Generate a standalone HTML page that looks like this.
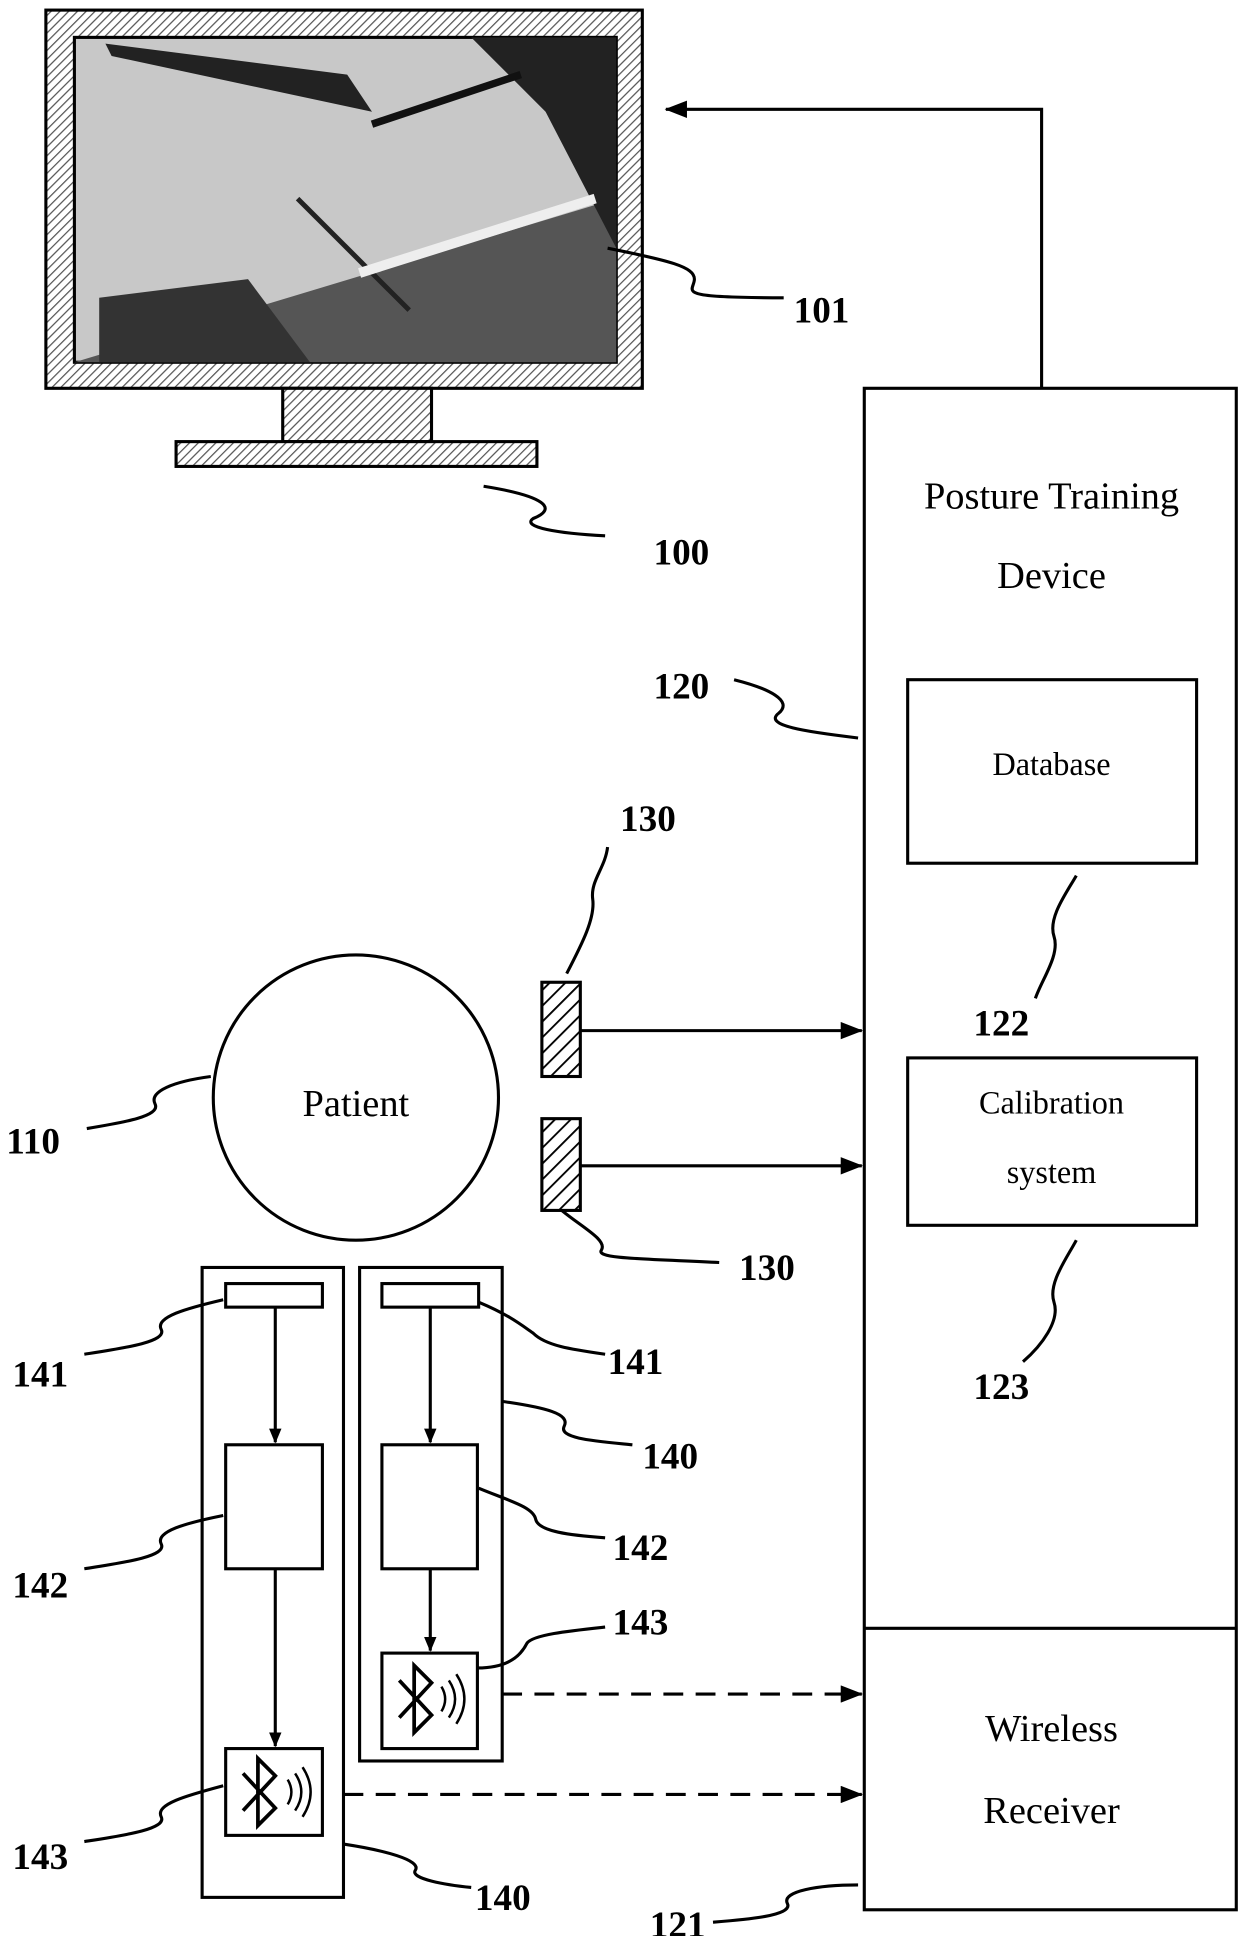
<!DOCTYPE html>
<html><head><meta charset="utf-8"><style>
html,body{margin:0;padding:0;background:#fff;}
svg{display:block;}
text{font-family:"Liberation Serif",serif;fill:#000;}
.lab{font-weight:bold;font-size:30px;}
.t{font-size:31px;}
.s{font-size:26px;}
</style></head><body>
<svg width="1240" height="1936" viewBox="0 0 1000 1561" xmlns="http://www.w3.org/2000/svg">
<defs>
<pattern id="h" width="5" height="5" patternUnits="userSpaceOnUse" patternTransform="rotate(45)">
<rect width="5" height="5" fill="#fff"/><line x1="0" y1="0" x2="0" y2="5" stroke="#555" stroke-width="2"/></pattern>
<pattern id="h2" width="9" height="9" patternUnits="userSpaceOnUse" patternTransform="rotate(45)">
<rect width="9" height="9" fill="#fff"/><line x1="0" y1="0" x2="0" y2="9" stroke="#000" stroke-width="3"/></pattern>
<marker id="a" markerWidth="12" markerHeight="10" refX="11" refY="5" orient="auto" markerUnits="userSpaceOnUse">
<path d="M0,0 L12,5 L0,10 Z" fill="#000"/></marker>
<marker id="a2" markerWidth="18" markerHeight="14" refX="17" refY="7" orient="auto" markerUnits="userSpaceOnUse">
<path d="M0,0 L18,7 L0,14 Z" fill="#000"/></marker>
</defs>
<g stroke="#000" stroke-width="2.5" fill="none">
<rect x="37" y="8" width="481" height="305" fill="url(#h)"/>
<rect x="60" y="30" width="437" height="262" fill="#c8c8c8"/>
<rect x="228" y="313" width="120" height="43" fill="url(#h)"/>
<rect x="142" y="356" width="291" height="20" fill="url(#h)"/>
</g>
<g>
<polygon points="60,292 497,160 497,292" fill="#555"/>
<polygon points="380,30 497,30 497,200 440,90" fill="#222"/>
<polygon points="85,35 280,60 300,90 90,45" fill="#222"/>
<polygon points="80,240 200,225 250,292 80,292" fill="#333"/>
<line x1="240" y1="160" x2="330" y2="250" stroke="#222" stroke-width="4"/>
<line x1="290" y1="220" x2="480" y2="160" stroke="#eee" stroke-width="8"/>
<line x1="300" y1="100" x2="420" y2="60" stroke="#111" stroke-width="6"/>
</g>
<g stroke="#000" stroke-width="2.5" fill="none">
<path d="M840,313 V88 H537" marker-end="url(#a2)"/>
<rect x="697" y="313" width="300" height="1227" fill="#fff"/>
<line x1="697" y1="1313" x2="997" y2="1313"/>
<rect x="732" y="548" width="233" height="148"/>
<rect x="732" y="853" width="233" height="135"/>
<circle cx="287" cy="885" r="115"/>
<rect x="437" y="792" width="31" height="76" fill="url(#h2)"/>
<rect x="437" y="902" width="31" height="74" fill="url(#h2)"/>
<line x1="468" y1="831" x2="695" y2="831" marker-end="url(#a2)"/>
<line x1="468" y1="940" x2="695" y2="940" marker-end="url(#a2)"/>
<rect x="163" y="1022" width="114" height="508"/>
<rect x="290" y="1022" width="115" height="398"/>
<rect x="182" y="1035" width="78" height="19"/>
<rect x="182" y="1165" width="78" height="100"/>
<rect x="182" y="1410" width="78" height="70"/>
<rect x="308" y="1035" width="78" height="19"/>
<rect x="308" y="1165" width="77" height="100"/>
<rect x="308" y="1333" width="77" height="77"/>
<line x1="222" y1="1054" x2="222" y2="1163" marker-end="url(#a)"/>
<line x1="222" y1="1265" x2="222" y2="1408" marker-end="url(#a)"/>
<line x1="347" y1="1054" x2="347" y2="1163" marker-end="url(#a)"/>
<line x1="347" y1="1265" x2="347" y2="1331" marker-end="url(#a)"/>
<line x1="405" y1="1366" x2="695" y2="1366" stroke-dasharray="16,10" marker-end="url(#a2)"/>
<line x1="277" y1="1447" x2="695" y2="1447" stroke-dasharray="16,10" marker-end="url(#a2)"/>
<path d="M196,1430 L222,1458 L208,1472 V1418 L222,1432 L196,1460" stroke-width="3"/>
<path d="M232,1435 q6,10 0,20 M238,1430 q10,15 0,30 M244,1425 q13,20 0,40" stroke-width="2"/>
<path d="M322,1355 L348,1383 L334,1397 V1343 L348,1357 L322,1385" stroke-width="3"/>
<path d="M356,1360 q6,10 0,20 M362,1355 q10,15 0,30 M368,1350 q13,20 0,40" stroke-width="2"/>
<path d="M490,200 C540,210 560,215 560,225 C560,235 540,240 632,240"/>
<path d="M390,392 C440,400 450,410 430,418 C420,425 450,430 488,432"/>
<path d="M592,548 C620,555 640,565 628,575 C615,585 650,590 692,595"/>
<path d="M457,785 C470,760 480,740 478,725 C476,710 488,700 490,683"/>
<path d="M868,706 C860,720 845,740 850,755 C855,770 840,790 835,805"/>
<path d="M170,868 C140,872 120,880 125,890 C130,900 100,905 70,910"/>
<path d="M453,976 C470,990 490,1000 485,1008 C480,1015 520,1015 580,1018"/>
<path d="M868,1000 C860,1015 845,1035 850,1050 C855,1065 840,1085 825,1098"/>
<path d="M180,1048 C150,1055 125,1062 130,1072 C135,1082 100,1087 68,1092"/>
<path d="M386,1050 C410,1060 420,1068 430,1075 C440,1085 460,1088 488,1092"/>
<path d="M405,1130 C440,1135 460,1140 455,1150 C450,1160 480,1162 510,1165"/>
<path d="M180,1222 C150,1228 125,1235 130,1245 C135,1255 100,1260 68,1265"/>
<path d="M386,1200 C410,1210 430,1215 432,1225 C434,1235 460,1238 488,1240"/>
<path d="M385,1345 C410,1345 420,1335 425,1325 C430,1318 460,1315 488,1312"/>
<path d="M180,1440 C150,1448 125,1455 130,1465 C135,1475 100,1480 68,1485"/>
<path d="M277,1487 C310,1492 340,1500 335,1508 C330,1515 360,1520 380,1522"/>
<path d="M692,1520 C660,1520 630,1525 635,1535 C640,1545 600,1548 575,1550"/>
</g>
<text class="t" x="848" y="410" text-anchor="middle">Posture Training</text>
<text class="t" x="848" y="474" text-anchor="middle">Device</text>
<text class="s" x="848" y="625" text-anchor="middle">Database</text>
<text class="s" x="848" y="898" text-anchor="middle">Calibration</text>
<text class="s" x="848" y="954" text-anchor="middle">system</text>
<text class="t" x="287" y="900" text-anchor="middle">Patient</text>
<text class="t" x="848" y="1404" text-anchor="middle">Wireless</text>
<text class="t" x="848" y="1470" text-anchor="middle">Receiver</text>
<text class="lab" x="640" y="260">101</text>
<text class="lab" x="527" y="455">100</text>
<text class="lab" x="527" y="563">120</text>
<text class="lab" x="500" y="670">130</text>
<text class="lab" x="785" y="835">122</text>
<text class="lab" x="5" y="930">110</text>
<text class="lab" x="596" y="1032">130</text>
<text class="lab" x="785" y="1128">123</text>
<text class="lab" x="10" y="1118">141</text>
<text class="lab" x="490" y="1108">141</text>
<text class="lab" x="518" y="1184">140</text>
<text class="lab" x="10" y="1288">142</text>
<text class="lab" x="494" y="1258">142</text>
<text class="lab" x="494" y="1318">143</text>
<text class="lab" x="10" y="1507">143</text>
<text class="lab" x="383" y="1540">140</text>
<text class="lab" x="524" y="1562">121</text>
</svg>
</body></html>
